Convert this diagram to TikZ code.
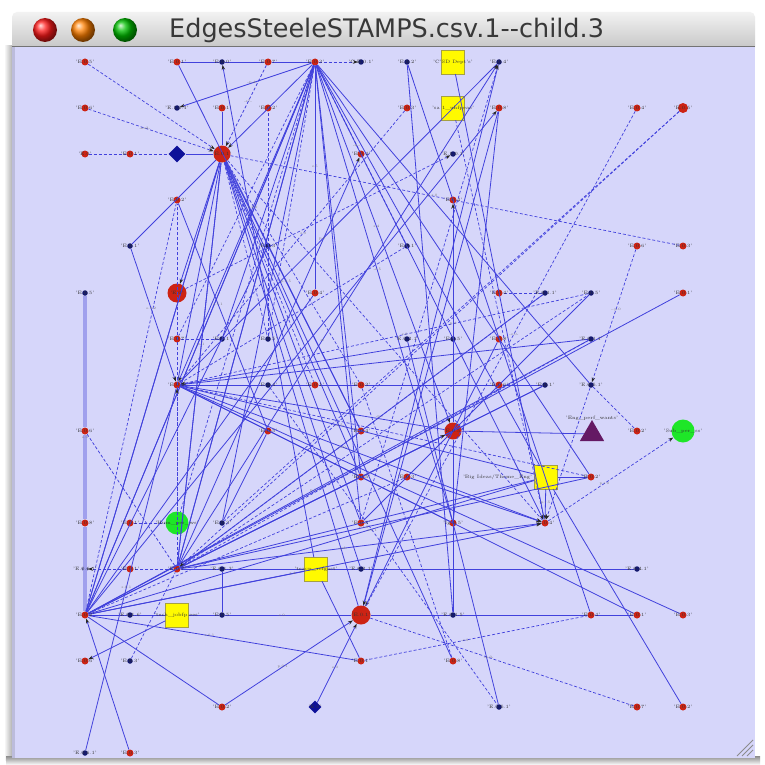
\documentclass[tikz,border=0pt]{standalone}
\usepackage{fontspec}
\newfontfamily\titlefont{DejaVu Sans}
\usetikzlibrary{arrows.meta,shapes.geometric}
\definecolor{lav}{RGB}{214,214,250}
\definecolor{edgeblue}{RGB}{65,65,220}
\definecolor{nred}{RGB}{205,35,20}
\definecolor{nblue}{RGB}{20,25,110}
\definecolor{ngreen}{RGB}{30,230,40}
\definecolor{nyellow}{RGB}{255,250,0}
\definecolor{npurple}{RGB}{100,25,100}
\tikzset{
 rdot/.style={circle,fill=nred,inner sep=0pt,minimum size=7pt},
 bdot/.style={circle,fill=nblue,inner sep=0pt,minimum size=5.5pt},
 bigred/.style={circle,fill=nred,inner sep=0pt,minimum size=#1},
 gball/.style={circle,fill=ngreen,inner sep=0pt,minimum size=23pt},
 ysq/.style={rectangle,fill=nyellow,draw=yellow!60!black,line width=0.3pt,inner sep=0pt,minimum width=23pt,minimum height=24pt},
 bdia/.style={diamond,fill=nblue!70!blue,inner sep=0pt,minimum width=#1,minimum height=#1},
 ptri/.style={regular polygon,regular polygon sides=3,fill=npurple,inner sep=0pt,minimum size=28pt},
 se/.style={draw=edgeblue,line width=0.8pt},
 de/.style={draw=edgeblue,line width=0.7pt,dash pattern=on 3pt off 2pt},
 te/.style={draw=edgeblue!50,line width=3.2pt},
 arr/.style={-{Stealth[length=5pt,width=3.5pt,color=black!85]}},
 elab/.style={font=\fontsize{3.5}{3.5}\selectfont,text=black!55,inner sep=0.5pt},
 lab/.style={font=\fontsize{4.8}{4.8}\selectfont,text=black!80,inner sep=0pt}
}
\begin{document}
\begin{tikzpicture}[x=1pt,y=-1pt]
\useasboundingbox (0,0) rectangle (764,765);
\fill[white] (0,0) rectangle (764,765);
% window
\shade[left color=white,right color=black!30] (4,46) rectangle (12,760);
\shade[top color=black!45,bottom color=white] (6,756) rectangle (760,765);
\shade[top color=black!5,bottom color=black!24,rounded corners=5pt] (12,12) rectangle (755,52);
\fill[lav] (12,46) rectangle (755,758);
\fill[black!12!lav] (12,46) rectangle (15,758);
\draw[black!55,line width=0.8pt] (12,46) -- (755,46);
\shade[ball color=red!90] (45,30) circle (12pt);
\shade[ball color=orange] (83,30) circle (12pt);
\shade[ball color=green!75!black] (125,30) circle (12pt);
\node[anchor=west,font=\fontsize{25.5}{25.5}\selectfont\titlefont,text=black!78,inner sep=0pt] (title) at (169,30) {EdgesSteeleSTAMPS.csv.1-{}-child.3};
\draw[black!45,line width=0.8pt] (753,740) -- (737,756) (753,745) -- (742,756) (753,750) -- (747,756);

% nodes
\foreach \n/\x/\y in {r1/85/62,r2/177/62,r3/268/62,hubT/315/62,r5/85/108,r6/222/108,r7/268/108,r8/407/108,r9/499/108,r10/637/108,r0/85/154,r12/130/154,r13/361/154,r14/177/200,r15/453/200,r16/637/246,r17/683/246,r18/315/293,r19/499/293,r20/683/293,r21/177/339,r22/499/339,hubL/177/385,r24/315/385,r25/361/385,r23/499/385,r26/85/431,r27/268/431,r28/361/431,r29/637/431,r30/361/477,r31/407/477,r32/591/477,r33/85/523,r34/130/523,r35/361/523,r36/453/523,hubR/545/523,r37/130/569,hubM/177/569,hubB/85/615,r38/591/615,r39/637/615,r40/683/615,r41/85/661,r42/361/661,r43/453/661,r44/222/707,r45/637/707,r46/683/707,r47/130/753}
  \node[rdot] (\n) at (\x,\y) {};
\node[bigred=10pt] (r11) at (683,108) {};
\foreach \n/\x/\y in {b1/222/62,b2/361/62,b3/407/62,b4/499/62,b5/177/108,b6/453/154,b7/130/246,b8/268/246,b9/407/246,b10/85/293,b11/545/293,b12/591/293,b13/222/339,b14/268/339,b15a/407/339,b15/453/339,b16/591/339,b17/268/385,b18/545/385,b19/591/385,b20/222/523,b21/85/569,b22/222/569,b23/361/569,b24/637/569,b25/130/615,b26/222/615,b27/453/615,b28/130/661,b29/499/707,b30/85/753}
  \node[bdot] (\n) at (\x,\y) {};
\node[bigred=17pt] (B1) at (222,154) {};
\node[bigred=19pt] (B2) at (177,293) {};
\node[bigred=17pt] (B3) at (453,431) {};
\node[bigred=19pt] (B4) at (361,615) {};
\node[gball] (G1) at (177,523) {};
\node[gball] (G2) at (683,431) {};
\node[ysq] (Y1) at (453,62) {};
\node[ysq] (Y2) at (453,108) {};
\node[ysq] (Y3) at (546,477) {};
\node[ysq] (Y4) at (316,569) {};
\node[ysq] (Y5) at (177,615) {};
\node[bdia=17pt] (D1) at (177,154) {};
\node[bdia=13pt] (D2) at (315,707) {};
\node[ptri] (T1) at (592,434) {};

% edges
\draw[te] (b10) -- (r26) -- (r33) -- (hubB);
\foreach \a/\b in {r2/b1,b1/r3,r3/hubT,B1/D1,B1/b7,r14/r27,r2/r28,b3/b27,b3/r38,Y1/hubR,r9/r36,r9/B4,B3/T1,B3/b27,hubL/b17,b17/r24,r24/r25,r25/r23,r23/b18,hubL/r36,hubL/Y3,hubL/r40,hubL/B3,hubB/Y3,hubB/b16,r20/hubB,hubB/B1,hubB/hubT,hubB/r18,hubB/b8,hubB/b25,b25/Y5,Y5/b26,b26/B4,B4/b27,b27/r38,r38/r39,hubB/r44,b30/hubL,hubB/r42,hubM/b22,b22/Y4,Y4/b23,b23/b24,hubM/Y3,hubM/r32,hubM/b18,hubM/hubT,hubM/B1,b20/r27,b22/b26,Y4/r42,hubB/Y4,r32/Y3,Y3/r46,b15a/b29,hubT/hubM,hubT/hubB,hubT/b13,hubT/r18,hubT/r36,hubT/r35,hubT/Y3,hubT/b19,hubT/b20,B1/hubL,B1/hubM,B1/hubB,B1/r35,B1/B4,B1/r28,B1/b23,b12/r35,hubL/b4,hubL/b15,hubL/b16,B1/r30,hubT/r32,hubB/b18,hubM/b11,r6/B1,hubT/r30,B1/r43,hubL/r39}
  \draw[se] (\a) -- (\b);
\foreach \a/\b in {hubT/b5,hubT/B1,b7/hubL,Y4/b1,hubM/r13,B3/r15,b4/B4,r22/B4,hubL/hubR,hubB/hubR,r44/B4,D2/B4,r47/hubB,Y5/r41,hubM/hubR,Y3/hubR,hubT/hubL,hubT/hubR,hubT/B3,B1/B2,hubM/b4,hubB/r9,hubB/B3,r31/hubR}
  \draw[se,arr] (\a) -- (\b);
\foreach \a/\b in {r0/r12,r12/D1,B1/r17,r8/hubL,Y2/hubR,r21/b13,b16/hubM,b11/hubM,r11/b20,r10/B4,b19/r29,B4/r45,r42/r38,r25/r43,b17/b29,hubM/r37,b28/hubM,hubT/r21,hubT/G1,hubT/b9,hubB/r14,hubM/r14,hubL/r32,hubM/b12,B1/hubR,r34/G1,b11/r19,hubT/b14,B1/b14,hubL/b9,B1/r25,b14/r7,r26/hubM,hubB/r31,B1/r24}
  \draw[de] (\a) -- (\b);
\foreach \a/\b in {r1/B1,r5/B1,r3/B1,B2/b6,r37/b21,b19/hubR,hubR/G2,r11/hubM,G1/hubL,b12/hubL,r16/b19,hubT/b2,r35/b4}
  \draw[de,arr] (\a) -- (\b);

% edge labels
\foreach \a/\b/\t in {r5/B1/{-no2-},r14/r27/{s.5.1},hubT/b5/{-p.4-},r3/B1/{-r7-},B1/r17/{p.r.0},r8/hubL/{s.0},hubT/b9/{-n.-},b7/hubL/{e.0.2},hubT/hubL/{s.2.0},B1/hubM/{n.1},hubL/b4/{p.0},hubT/r36/{-s.5},hubM/b4/{sf},hubL/hubR/{-s.0-},hubB/hubR/{r.4},hubM/hubR/{-pd-},r16/b19/{-.p.0},r10/B4/{-s.0-},b12/hubL/{s.0},Y3/hubR/{p.r.5},hubR/G2/{p.r.0},b10/hubB/{e.0},hubB/r42/{s.0.1},r44/B4/{p.0.1},D2/B4/{e.0},B4/r45/{-n.0-},r42/r38/{-s.0},b17/b29/{a.c.1},hubT/r18/{s.5},B1/r28/{p.0.5},b11/hubM/{-p.-},hubL/Y3/{-s.5-},hubB/b16/{p.1},b26/B4/{-s.0-},hubM/r32/{s.1.5},b30/hubL/{s.0.1},hubT/B3/{s.4},B3/r15/{p.4}}
  \path (\a) -- node[elab,pos=0.45] {\t} (\b);

% node labels
\foreach \n/\t in {r1/{'E.0.5'},r2/{'E.0.1'},b1/{'E.0.0'},r3/{'E.0.7'},hubT/{'E.0.3'},b2/{'C.E.0.1'},b3/{'E.0.2'},Y1/{'C'SD Dept's'},b4/{'E.0.4'},r5/{'E.0.6'},b5/{'E.1.0.1'},r6/{'E.0.1'},r7/{'E.0.2'},r8/{'E.0.3'},Y2/{'sa 1\_uhfpeas'},r9/{'E.0.8'},r10/{'E.0.4'},r11/{'E.0.5'},r0/{'E.0'},r12/{'E.0.1'},B1/{'E.0.1'},r13/{'E.0.4'},b6/{'E.1.0.1'},r14/{'E.0.2'},r15/{'E.0.4'},b7/{'E.0.1'},b8/{'E.0.3'},b9/{'E.0.1'},r16/{'E.0.6'},r17/{'E.0.3'},b10/{'E.0.5'},B2/{'E.0'},r18/{'E.0.4'},r19/{'E.0.4'},b11/{'E.0.1.1'},b12/{'E.0.5'},r20/{'E.0.1'},r21/{'E.0.7'},b13/{'E.0.1'},b14/{'E.0.5'},b15a/{'E.0.2.1'},b15/{'E.0.5'},r22/{'E.0.8'},b16/{'E.0.1.1'},hubL/{'E.0.2'},b17/{'E.0.4'},r24/{'E.0.1'},r25/{'E.0.3'},r23/{'E.0.6'},b18/{'E.0.1'},b19/{'E.0.5.1'},r26/{'E.0.6'},r27/{'E.0.5'},r28/{'E.0.4'},B3/{'E.0.5'},r29/{'E.0.2'},G2/{'Sub\_per\_ss'},r30/{'E.0.5'},r31/{'E.0.3'},r32/{'E.0.2'},r33/{'E.0.8'},r34/{'E.0.1'},G1/{'Hum\_per\_ws'},b20/{'E.0.3'},r35/{'E.0.5'},r36/{'Ig.0.5'},hubR/{'E.0.4'},b21/{'E.0.6.1'},r37/{'E.0.1'},hubM/{'E.0.7'},b22/{'E.0.1.3'},Y4/{'teacp\_refgast'},b23/{'E.0.2.1'},b24/{'E.0.4.1'},hubB/{'E.0.2'},b25/{'E.0.1.6'},Y5/{'tech\_jobfp.ees'},b26/{'E.0.5'},B4/{'E.0.1'},b27/{'E.0.1.5'},r38/{'E.0.4'},r39/{'E.0.1'},r40/{'E.0.3'},r41/{'E.0.6'},b28/{'E.0.3'},r42/{'E.0.1'},r43/{'E.0.8'},r44/{'E.0.2'},D2/{'E.0'},b29/{'E.0.5.1'},r45/{'E.0.7'},r46/{'E.0.2'},b30/{'E.0.6.1'},r47/{'E.0.3'}}
  \node[lab] at (\n) {\t};
\node[lab,anchor=south] at ([yshift=-1pt]T1.north) {'Eng\_perf\_wants'};
\node[lab,anchor=east] at ([xshift=-2pt]Y3.west) {'Big Ideas/Theme\_Eng'};
\end{tikzpicture}
\end{document}
